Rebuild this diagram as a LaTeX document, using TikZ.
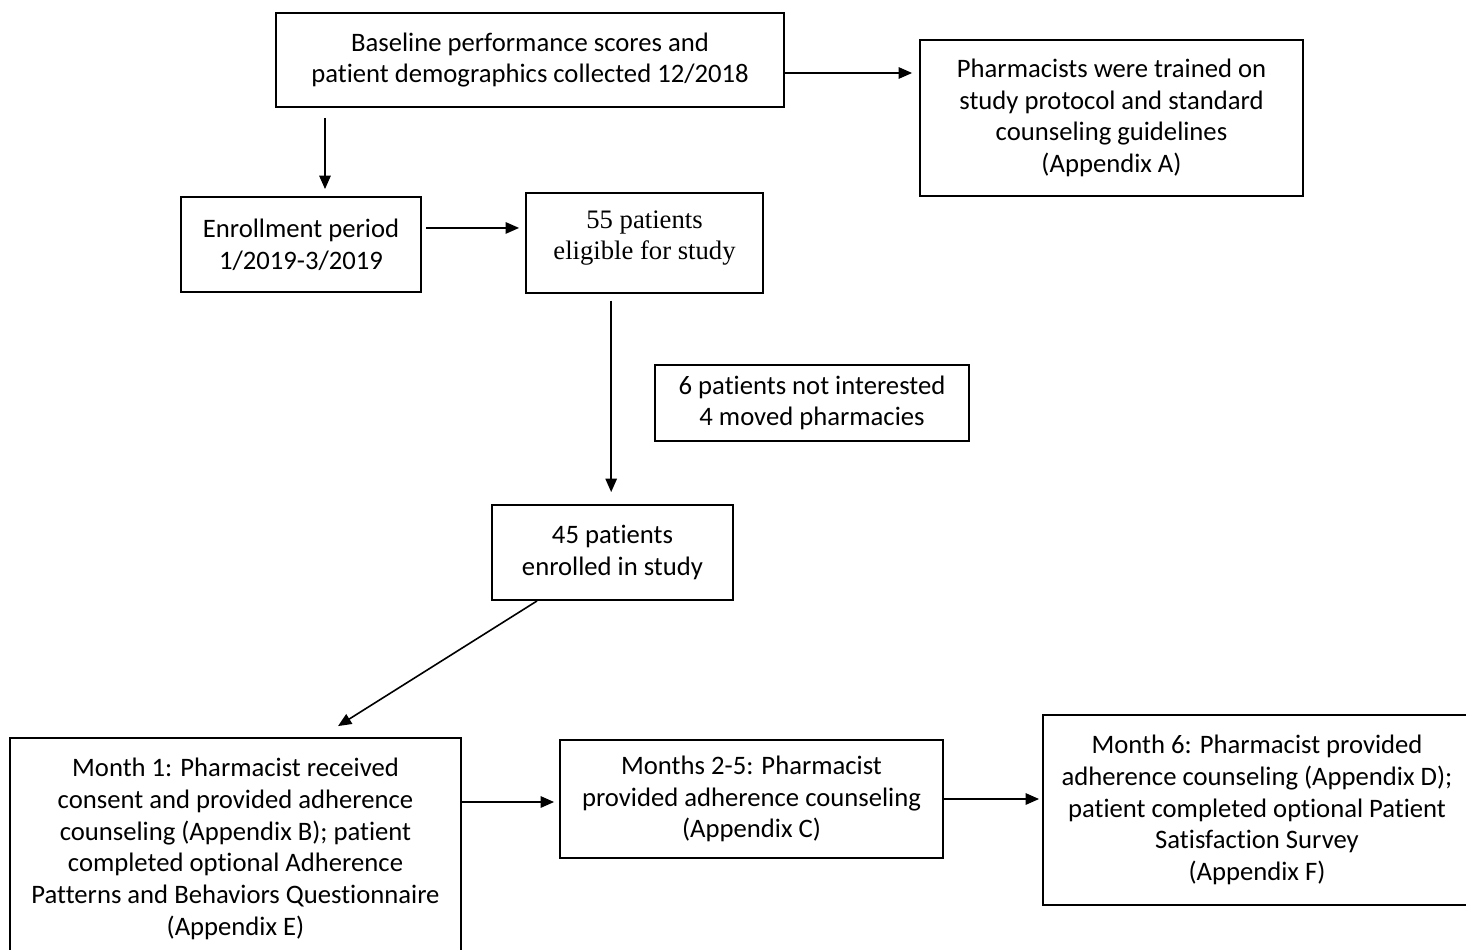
\documentclass[tikz,border=0pt]{standalone}
\usepackage{fontspec}
\setmainfont{Carlito}[Ligatures=NoCommon]
\newfontfamily\timesfont{Liberation Serif}
\usepackage{tikz}
\usetikzlibrary{arrows.meta}
\usetikzlibrary{positioning}

\begin{document}
\begin{tikzpicture}[x=0.75pt,y=-0.75pt,
  box/.style={draw,line width=1.4pt,inner sep=0pt,align=center,
    font=\fontsize{20}{23.8}\selectfont},
  arr/.style={->,line width=1.2pt},
  >={Triangle[length=10pt,width=8.5pt]}]
\useasboundingbox (0,0) rectangle (1466,949);
\clip (0,0) rectangle (1466,949);
% boxes
\node[box,minimum width=381pt,minimum height=70.5pt] (base) at (530,60)
  {Baseline performance scores and\\patient demographics collected 12/2018};
\node[box,minimum width=287.25pt,minimum height=117pt] (train) at (1111.5,118)
  {Pharmacists were trained on\\study protocol and standard\\counseling guidelines\\(Appendix A)};
\node[box,minimum width=180pt,minimum height=71.25pt] (enrol) at (301,244.5)
  {Enrollment period\\1/2019-3/2019};
\node[box,minimum width=177.75pt,minimum height=75pt,
  font=\timesfont\fontsize{20}{23}\selectfont] (elig) at (644.5,243)
  {55 patients\\eligible for study\\[-11pt]\mbox{}};
\node[box,minimum width=235.5pt,minimum height=57pt] (excl) at (812,403)
  {6 patients not interested\\4 moved pharmacies};
\node[box,minimum width=180.75pt,minimum height=71.25pt] (enrl45) at (612.5,552.5)
  {45 patients\\enrolled in study};
\node[box,minimum width=338.25pt,minimum height=166.5pt] (m1) at (235.5,849)
  {Month 1: Pharmacist received\\consent and provided adherence\\counseling (Appendix B); patient\\completed optional Adherence\\Patterns and Behaviors Questionnaire\\(Appendix E)};
\node[box,minimum width=287.25pt,minimum height=88.5pt] (m25) at (751.5,799)
  {Months 2-5: Pharmacist\\provided adherence counseling\\(Appendix C)};
\node[box,minimum width=321pt,minimum height=142.5pt] (m6) at (1257,810)
  {Month 6: Pharmacist provided\\adherence counseling (Appendix D);\\patient completed optional Patient\\Satisfaction Survey\\(Appendix F)};
% arrows
\coordinate (c1) at ([yshift=-9.75pt]base.east);
\draw[arr,shorten >=5.25pt] (c1) -- (c1 -| train.west);
\coordinate (c2) at ([xshift=18pt]enrol.north);
\draw[arr,shorten <=7.5pt,shorten >=5.25pt] (c2 |- base.south) -- (c2);
\coordinate (c3) at ([yshift=12.4pt]enrol.east);
\draw[arr,shorten <=3pt,shorten >=4.5pt] (c3) -- (c3 -| elig.west);
\coordinate (c4) at ([xshift=-25pt]elig.south);
\draw[arr,shorten <=5pt,shorten >=9pt] (c4) -- (c4 |- enrl45.north);
\draw[arr] ([xshift=-56.6pt]enrl45.south) -- ([xshift=76.9pt,yshift=8.25pt]m1.north);
\coordinate (c5) at ([yshift=35.25pt]m1.east);
\draw[arr,shorten >=3.75pt] (c5) -- (c5 -| m25.west);
\draw[arr,shorten >=2.25pt] (m25.east) -- (m25.east -| m6.west);
\end{tikzpicture}
\end{document}
